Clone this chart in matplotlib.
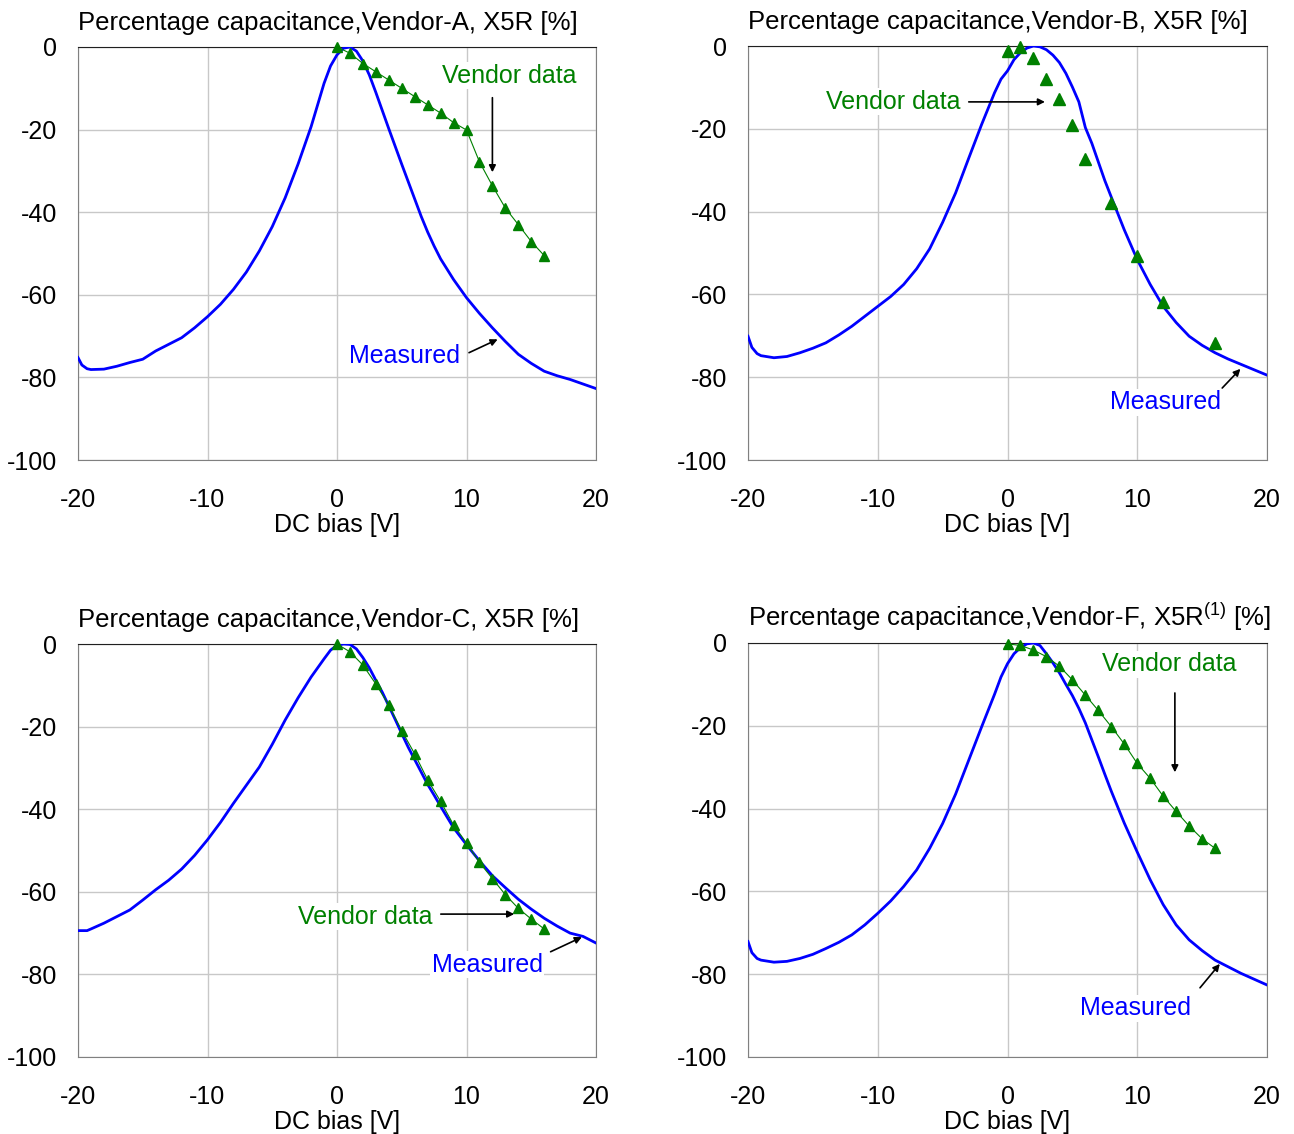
import numpy as np
import matplotlib.pyplot as plt

plt.rcParams['font.family'] = ['Liberation Sans', 'DejaVu Sans']
plt.rcParams['mathtext.fontset'] = 'custom'
plt.rcParams['mathtext.rm'] = 'Liberation Sans'
plt.rcParams['mathtext.it'] = 'Liberation Sans'
plt.rcParams['axes.unicode_minus'] = False

# ---- Vendor-A ----
a_meas_x = [-20, -19.7, -19.3, -19, -18, -17, -16, -15, -14, -13, -12, -11, -10, -9, -8, -7, -6, -5, -4, -3, -2, -1, -0.5, 0, 0.5, 1, 1.5, 2, 2.5, 3, 3.5, 4, 4.5, 5, 5.5, 6, 6.5, 7, 7.5, 8, 9, 10, 11, 12, 13, 14, 15, 16, 17, 18, 19, 20]
a_meas_y = [-75.2, -77.0, -77.9, -78.1, -78.0, -77.3, -76.4, -75.6, -73.6, -72.0, -70.4, -68.0, -65.3, -62.3, -58.7, -54.5, -49.4, -43.5, -36.5, -28.3, -19.3, -8.8, -4.6, -1.9, -0.3, 0.0, -1.0, -3.4, -6.8, -11.0, -15.4, -19.8, -24.1, -28.4, -32.6, -36.8, -41.0, -44.8, -48.2, -51.3, -56.3, -60.7, -64.5, -68.0, -71.3, -74.4, -76.6, -78.5, -79.6, -80.5, -81.6, -82.7]
a_vend_x = [0, 1, 2, 3, 4, 5, 6, 7, 8, 9, 10, 11, 12, 13, 14, 15, 16]
a_vend_y = [0, -1.5, -4, -6, -8, -10, -12, -14, -16, -18.3, -20.1, -27.8, -33.6, -39, -43, -47.1, -50.5]

# ---- Vendor-B ----
b_meas_x = [-20, -19.7, -19.3, -19, -18, -17, -16, -15, -14, -13, -12, -11, -10, -9, -8, -7, -6, -5, -4, -3, -2, -1, -0.5, 0, 0.5, 1, 1.5, 2, 2.5, 3, 3.5, 4, 4.5, 5, 5.5, 6, 6.5, 7, 7.5, 8, 9, 10, 11, 12, 13, 14, 15, 16, 17, 18, 19, 20]
b_meas_y = [-70.1, -72.8, -74.3, -74.8, -75.3, -75.0, -74.1, -73.0, -71.7, -69.8, -67.7, -65.3, -62.9, -60.5, -57.6, -53.8, -49.0, -42.6, -35.5, -27.2, -19.0, -11.3, -8.0, -6.0, -3.3, -1.6, -0.5, 0.0, -0.2, -0.9, -2.2, -4.0, -6.6, -9.9, -13.5, -19.7, -23.5, -28.0, -32.5, -36.5, -44.4, -51.6, -57.6, -62.9, -66.8, -70.1, -72.3, -74.1, -75.6, -76.9, -78.2, -79.5]
b_vend_x = [0, 1, 2, 3, 4, 5, 6, 8, 10, 12, 16]
b_vend_y = [-1.1, -0.2, -3, -8, -12.9, -19, -27.3, -37.9, -50.8, -61.9, -71.7]

# ---- Vendor-C ----
c_meas_x = [-20, -19.3, -19, -18, -17, -16, -15, -14, -13, -12, -11, -10, -9, -8, -7, -6, -5, -4, -3, -2, -1, -0.5, 0, 0.5, 1, 1.5, 2, 2.5, 3, 3.5, 4, 4.5, 5, 5.5, 6, 6.5, 7, 7.5, 8, 9, 10, 11, 12, 13, 14, 15, 16, 17, 18, 19, 20]
c_meas_y = [-69.4, -69.4, -69.0, -67.6, -66.0, -64.4, -62.0, -59.5, -57.2, -54.5, -51.2, -47.4, -43.2, -38.6, -34.2, -29.8, -24.3, -18.4, -13.0, -8.0, -3.6, -1.5, -0.3, 0.0, -0.1, -1.2, -3.3, -5.8, -8.8, -11.7, -15.0, -18.3, -21.7, -25.0, -28.0, -31.0, -34.0, -36.6, -39.3, -44.5, -48.6, -52.5, -56.1, -59.0, -61.8, -64.2, -66.4, -68.3, -70.0, -70.8, -72.4]
c_vend_x = [0, 1, 2, 3, 4, 5, 6, 7, 8, 9, 10, 11, 12, 13, 14, 15, 16]
c_vend_y = [0, -1.9, -5.1, -9.7, -14.8, -21, -26.6, -32.9, -38.1, -43.8, -48.2, -52.9, -56.8, -60.7, -64, -66.6, -69]

# ---- Vendor-F ----
f_meas_x = [-20, -19.7, -19.3, -19, -18, -17, -16, -15, -14, -13, -12, -11, -10, -9, -8, -7, -6, -5, -4, -3, -2, -1, -0.5, 0, 0.5, 1, 1.5, 2, 2.5, 3, 3.5, 4, 4.5, 5, 5.5, 6, 6.5, 7, 7.5, 8, 9, 10, 11, 12, 13, 14, 15, 16, 17, 18, 19, 20]
f_meas_y = [-72.1, -74.8, -76.2, -76.6, -77.1, -76.9, -76.2, -75.2, -73.8, -72.3, -70.5, -68.1, -65.3, -62.3, -58.8, -54.8, -49.6, -43.6, -36.5, -28.4, -20.3, -12.4, -8.2, -5.0, -2.6, -1.1, -0.2, 0.0, -0.6, -2.6, -4.8, -7.2, -10.0, -12.7, -15.8, -19.3, -23.4, -27.5, -31.7, -35.8, -43.5, -50.5, -57.2, -63.2, -68.1, -71.7, -74.3, -76.6, -78.2, -79.8, -81.2, -82.6]
f_vend_x = [0, 1, 2, 3, 4, 5, 6, 7, 8, 9, 10, 11, 12, 13, 14, 15, 16]
f_vend_y = [-0.2, -0.6, -1.7, -3.3, -5.6, -8.9, -12.6, -16.3, -20.2, -24.4, -29.1, -32.7, -37, -40.7, -44.2, -47.3, -49.6]

titles = ['Percentage capacitance,Vendor-A, X5R [%]',
          'Percentage capacitance,Vendor-B, X5R [%]',
          'Percentage capacitance,Vendor-C, X5R [%]',
          'Percentage capacitance,Vendor-F, X5R$^{(1)}$ [%]']

BLUE = '#0000ff'
GREEN = '#008000'
FS = 18

fig = plt.figure(figsize=(12.94, 11.34), dpi=100)
W, H = 1294, 1134
boxes = [(78, 47, 596, 460), (748, 46, 1267, 460), (78, 644, 596, 1057), (748, 643, 1267, 1057)]
axes = []
for (l, t, r, b) in boxes:
    axes.append(fig.add_axes([l / W, 1 - b / H, (r - l) / W, (b - t) / H]))

data = [(a_meas_x, a_meas_y, a_vend_x, a_vend_y, True),
        (b_meas_x, b_meas_y, b_vend_x, b_vend_y, False),
        (c_meas_x, c_meas_y, c_vend_x, c_vend_y, True),
        (f_meas_x, f_meas_y, f_vend_x, f_vend_y, True)]

for ax, (mx, my, vx, vy, joined), title in zip(axes, data, titles):
    ax.plot(mx, my, color=BLUE, lw=2.0, zorder=3)
    if joined:
        ax.plot(vx, vy, color=GREEN, lw=0.8, marker='^', ms=7, zorder=4, clip_on=False)
    else:
        ax.plot(vx, vy, ls='none', color=GREEN, marker='^', ms=8, zorder=4, clip_on=False)
    ax.set_xlim(-20, 20)
    ax.set_ylim(-100, 0)
    ax.set_xticks([-20, -10, 0, 10, 20])
    ax.set_yticks([-100, -80, -60, -40, -20, 0])
    ax.grid(True, color='#c8c8c8', lw=1)
    ax.set_axisbelow(True)
    ax.tick_params(axis='both', length=0, labelsize=FS)
    ax.tick_params(axis='x', pad=20)
    ax.tick_params(axis='y', pad=15)
    for s in ['left', 'bottom', 'right']:
        ax.spines[s].set_color('#808080')
    ax.spines['top'].set_color('#202020')
    ax.set_xlabel('DC bias [V]', fontsize=FS, labelpad=1)
    ax.set_title(title, fontsize=18.5, loc='left', pad=12)

arr = dict(arrowstyle='-|>', color='black', lw=1.2, mutation_scale=10)
box = dict(facecolor='white', edgecolor='none', pad=1)
ann = [
    (axes[0], 'Vendor data', GREEN, (13.3, -7), (12.0, -11.6), (12.0, -31)),
    (axes[0], 'Measured', BLUE, (5.2, -74.8), (10.0, -74.3), (12.6, -70.5)),
    (axes[1], 'Vendor data', GREEN, (-8.8, -13.5), (-3.2, -13.5), (3.1, -13.5)),
    (axes[1], 'Measured', BLUE, (12.2, -86), (16.4, -83.1), (18.1, -77.5)),
    (axes[2], 'Vendor data', GREEN, (2.2, -66.1), (7.8, -65.4), (13.9, -65.4)),
    (axes[2], 'Measured', BLUE, (11.6, -77.7), (16.3, -74.8), (19.1, -70.7)),
    (axes[3], 'Vendor data', GREEN, (12.5, -5.1), (12.9, -11.4), (12.9, -31.9)),
    (axes[3], 'Measured', BLUE, (9.9, -88.2), (14.7, -83.8), (16.5, -77)),
]
for ax, txt, col, tpos, a0, a1 in ann:
    ax.annotate('', xy=a1, xytext=a0, arrowprops=arr, zorder=6)
    ax.text(tpos[0], tpos[1], txt, color=col, fontsize=FS, ha='center', va='center', bbox=box, zorder=5)

plt.savefig('out.png', dpi=100)
